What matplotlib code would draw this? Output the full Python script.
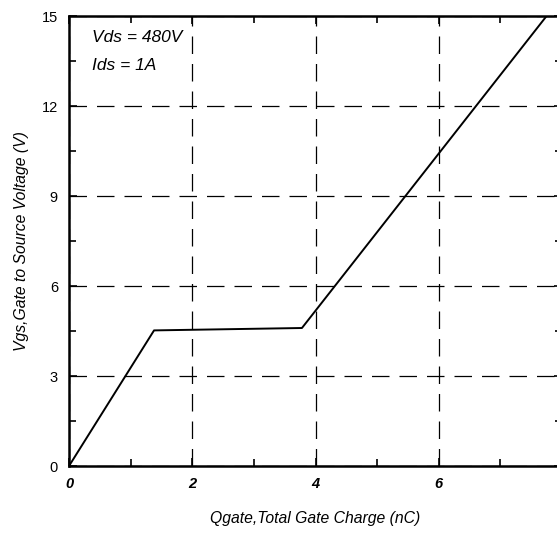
#!/usr/bin/env python3
# gate charge curve: Vgs vs total gate charge

import matplotlib
matplotlib.use('Agg')
import matplotlib.pyplot as plt
from matplotlib.ticker import MultipleLocator

# data
Qgate = [0.0, 1.38, 3.78, 7.75]
Vgs   = [0.0, 4.52, 4.60, 15.0]

XTicks = [0, 2, 4, 6, 8]
YTicks = [0, 3, 6, 9, 12, 15]

plt.rcParams['font.family'] = ['Liberation Sans', 'DejaVu Sans']

fig = plt.figure(figsize=(5.57, 5.33), dpi=100)
ax = fig.add_axes([69/557, 67/533, 493/557, 450/533])

ax.plot(Qgate, Vgs, color='black', lw=1.4)

ax.set_xlim(0, 8)
ax.set_ylim(0, 15)
ax.set_xticks(XTicks)
ax.set_yticks(YTicks)
ax.xaxis.set_minor_locator(MultipleLocator(1))
ax.yaxis.set_minor_locator(MultipleLocator(1.5))
ax.set_xticklabels([str(v) for v in XTicks], fontstyle='italic', fontweight='bold', fontsize=10.5)
ax.set_yticklabels([str(v) for v in YTicks], fontsize=10.5)

ax.tick_params(which='both', direction='in', top=True, right=True, width=1.2)
ax.tick_params(which='major', length=6, pad=8)
ax.tick_params(which='minor', length=5)

ax.grid(True, which='major', color='black', linestyle=(0, (14, 8)), lw=0.9)
for s in ax.spines.values():
  s.set_linewidth(1.8)

ax.set_xlabel('Qgate,Total Gate Charge (nC)', fontstyle='italic', fontsize=11.3, labelpad=14)
ax.set_ylabel('Vgs,Gate to Source Voltage (V)', fontstyle='italic', fontsize=11.3, labelpad=9)

ax.text(0.38, 14.3, 'Vds = 480V', fontstyle='italic', fontsize=12.5, va='center')
ax.text(0.38, 13.35, 'Ids = 1A', fontstyle='italic', fontsize=12.5, va='center')

fig.savefig('out.png', dpi=100)
